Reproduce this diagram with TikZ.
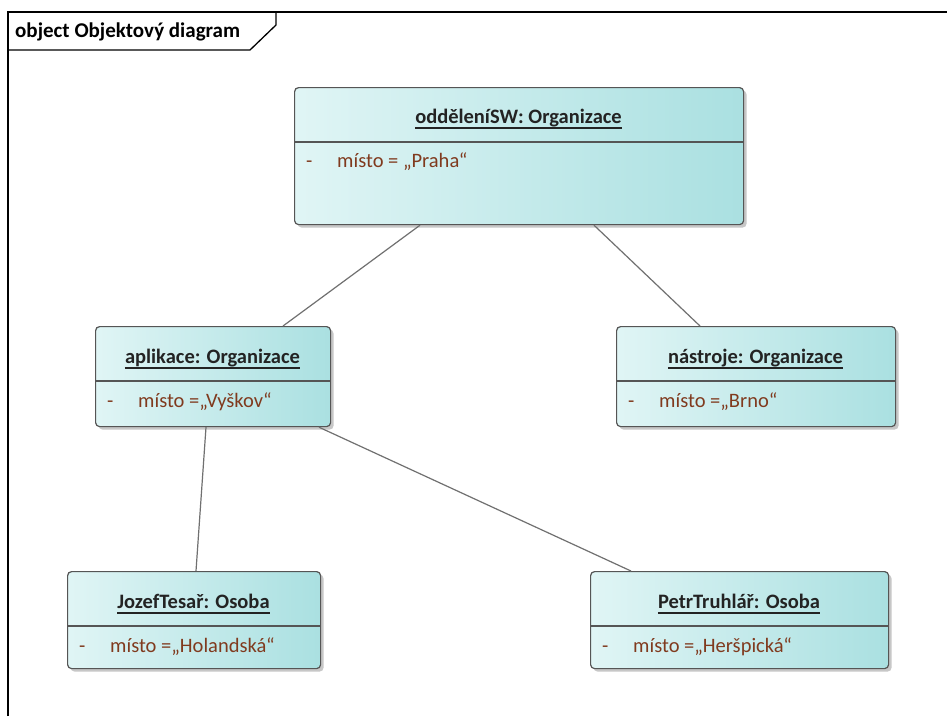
\documentclass[tikz,border=0pt]{standalone}
\usepackage{fontspec}
\setmainfont{Carlito}
\usetikzlibrary{shadows}

\definecolor{boxleft}{RGB}{224,245,245}
\definecolor{boxright}{RGB}{170,224,225}
\definecolor{boxedge}{RGB}{85,85,85}
\definecolor{attrtext}{RGB}{128,58,30}
\definecolor{titletext}{RGB}{35,35,35}
\definecolor{linkline}{RGB}{112,112,112}

\tikzset{
  objbox/.style={draw=boxedge, line width=1.2pt, rounded corners=4pt,
    left color=boxleft, right color=boxright, shading angle=90,
    drop shadow={shadow xshift=3pt, shadow yshift=-3pt, fill=black!22, opacity=1},
    inner sep=0pt, anchor=north west},
  divider/.style={draw=boxedge, line width=1.1pt},
  objtitle/.style={font=\fontsize{20.5}{23}\selectfont\bfseries, text=titletext, inner sep=0pt, anchor=base},
  titleline/.style={draw=titletext, line width=1.2pt},
  attr/.style={font=\fontsize{20.5}{23}\selectfont, text=attrtext, inner sep=0pt, anchor=base west},
  link/.style={draw=linkline, line width=1.2pt},
  frameline/.style={draw=black, line width=1.3pt}
}

% one object box: name, left, top, right, bottom, divider y, title base y, title, attribute
\newcommand{\objectbox}[9]{%
  \node[objbox, minimum width={(#4-#2)*1pt}, minimum height={(#5-#3)*1pt}] (#1) at (#2,#3) {};
  \draw[divider] (#1.west |- 0,#6) -- (#1.east |- 0,#6);
  \node[objtitle] (#1-t) at ({(#2+#4)/2},#7) {#8};
  \draw[titleline] ([yshift=-5pt]#1-t.base west) -- ([yshift=-5pt]#1-t.base east);
  \node[attr, text=attrtext] (#1-d) at (#2+12,#7+44) {-};
  \node[attr] (#1-a) at (#2+43,#7+44) {#9};
}

\begin{document}
\begin{tikzpicture}[x=1pt,y=-1pt]
  \useasboundingbox (0,0) rectangle (947,716);
  \fill[white] (0,0) rectangle (947,716);

  % diagram frame and its name tab
  \draw[frameline] (8,716) -- (8,12) -- (947,12);
  \draw[frameline] (8,50) -- (250,50) -- (276,25) -- (276,12);
  \node[font=\fontsize{21}{24}\selectfont\bfseries, inner sep=0pt, anchor=base west] (frametitle) at (15,37) {object Objektový diagram};

  % objects
  \objectbox{sw}{294}{87}{743}{224}{142}{123}{odděleníSW: Organizace}{místo = „Praha“}
  \objectbox{apl}{95}{326}{330}{426}{381}{363}{aplikace: Organizace}{místo =„Vyškov“}
  \objectbox{nas}{616}{326}{895}{426}{381}{363}{nástroje: Organizace}{místo =„Brno“}
  \objectbox{jt}{67}{571}{320}{668}{626}{608}{JozefTesař: Osoba}{místo =„Holandská“}
  \objectbox{pt}{590}{571}{888}{668}{626}{608}{PetrTruhlář: Osoba}{místo =„Heršpická“}

  % links between objects
  \draw[link] (sw.south -| 420,0) -- (apl.north -| 283,0);
  \draw[link] (sw.south -| 594,0) -- (nas.north -| 700,0);
  \draw[link] (apl.south -| 206,0) -- (jt.north -| 196,0);
  \draw[link] (apl.south -| 319,0) -- (pt.north -| 631,0);
\end{tikzpicture}
\end{document}
